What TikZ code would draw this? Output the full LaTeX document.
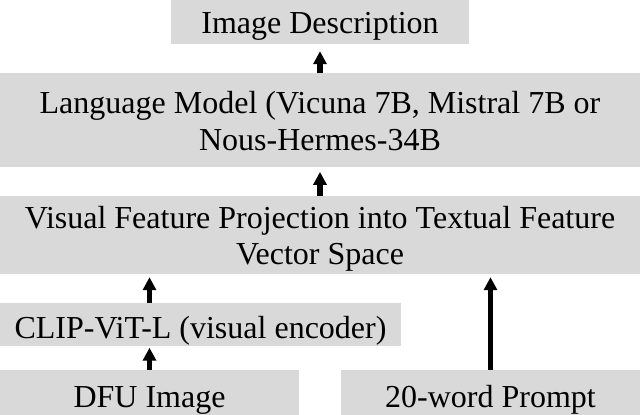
\documentclass[tikz,border=0pt]{standalone}
\usepackage{fontspec}
\setmainfont{Liberation Serif}
\usetikzlibrary{arrows.meta,calc}
\definecolor{boxgray}{RGB}{217,217,217}
\tikzset{
  box/.style={fill=boxgray, draw=none, inner sep=0pt, align=center,
    font=\fontsize{32}{37.5}\selectfont},
  uparrow/.style={line width=5.5pt, -{Triangle[width=13pt,length=13pt]}}
}
\begin{document}
\begin{tikzpicture}[x=1pt,y=-1pt]
\useasboundingbox (0,0) rectangle (640,415);
\node[box, minimum width=298.6pt, minimum height=44pt, text height=26pt, text depth=4pt]
  (img) at (320,22) {Image Description};
\node[box, minimum width=640pt, minimum height=93.4pt, text height=61.4pt, text depth=0pt]
  (lm) at (320,120) {Language Model (Vicuna 7B, Mistral 7B or\\Nous-Hermes-34B};
\node[box, font=\fontsize{32}{36}\selectfont, minimum width=640pt, minimum height=78pt, text height=60pt, text depth=1.4pt]
  (vf) at (320,235) {Visual Feature Projection into Textual Feature\\Vector Space};
\node[box, minimum width=401pt, minimum height=43pt, text height=29pt, text depth=2pt]
  (clip) at (200.5,324.5) {CLIP-ViT-L (visual encoder)};
\node[box, minimum width=299pt, minimum height=45pt, text height=29pt, text depth=0pt]
  (dfu) at (149.5,392.5) {DFU Image};
\node[box, minimum width=299pt, minimum height=45pt, text height=29pt, text depth=0pt]
  (prompt) at (490.5,392.5) {20-word Prompt};
\draw[uparrow, shorten >=7pt] (lm.north) -- (img.south);
\draw[uparrow, shorten >=5pt] (vf.north) -- (lm.south);
\draw[uparrow, shorten >=3pt] (clip.north -| dfu.north) -- (vf.south -| dfu.north);
\draw[uparrow, shorten >=1.5pt] (dfu.north) -- (clip.south -| dfu.north);
\draw[uparrow, shorten >=3pt] (prompt.north) -- (vf.south -| prompt.north);
\end{tikzpicture}
\end{document}
